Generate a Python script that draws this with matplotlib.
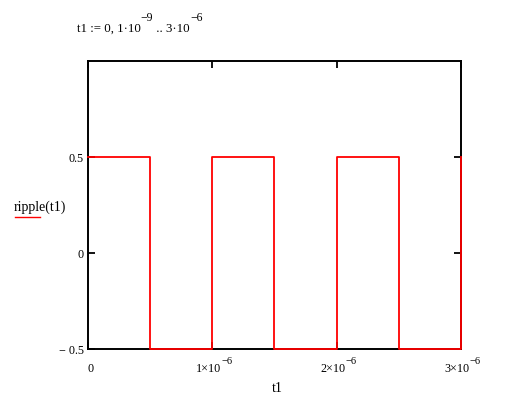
import matplotlib
matplotlib.use("Agg")
import matplotlib.pyplot as plt
from matplotlib.lines import Line2D

# data
edge_times = [0.0, 0.5e-6, 1.0e-6, 1.5e-6, 2.0e-6, 2.5e-6, 3.0e-6]
levels = [0.5, -0.5, 0.5, -0.5, 0.5, -0.5, 0.5]
x_ticks = [0.0, 1e-6, 2e-6, 3e-6]
x_tick_mant = ["0", "1\u00d710", "2\u00d710", "3\u00d710"]
x_tick_exp = ["", "\u22126", "\u22126", "\u22126"]
y_ticks = [-0.5, 0.0, 0.5]
y_tick_labels = ["\u2212 0.5", "0", "0.5"]

plt.rcParams['font.family'] = ['Liberation Serif', 'DejaVu Serif']

W, H = 506, 407
fig = plt.figure(figsize=(W / 100, H / 100), dpi=100)
L, R, T, B = 88, 461, 61, 349
ax = fig.add_axes([L / W, (H - B) / H, (R - L) / W, (B - T) / H])

ax.plot(edge_times, levels, drawstyle='steps-post', color='#ff0000', lw=1.3,
        clip_on=False, zorder=5)

ax.set_xlim(0, 3e-6)
ax.set_ylim(-0.5, 1.0)
ax.set_xticks(x_ticks)
ax.set_xticklabels([""] * len(x_ticks))
ax.set_yticks(y_ticks)
ax.set_yticklabels(y_tick_labels, fontsize=8.7)
ax.tick_params(axis='both', direction='in', length=5, width=1.3, color='black',
               top=True, right=True)
ax.tick_params(axis='y', pad=3)
for s in ax.spines.values():
    s.set_linewidth(1.4)
    s.set_zorder(3)

renderer = fig.canvas.get_renderer()


def rich(x_px, base_px, pieces, ha='left'):
    """pieces: list of (text, fontsize, raise_px). Coordinates in pixels from top-left."""
    widths = []
    for s, fs, _ in pieces:
        t = fig.text(0, 0, s, fontsize=fs)
        widths.append(t.get_window_extent(renderer).width)
        t.remove()
    total = sum(widths)
    if ha == 'center':
        x = x_px - total / 2
    elif ha == 'right':
        x = x_px - total
    else:
        x = x_px
    for (s, fs, dy), w in zip(pieces, widths):
        fig.text(x / W, 1 - (base_px - dy) / H, s, fontsize=fs,
                 ha='left', va='baseline')
        x += w


# x tick labels (Mathcad style with raised exponent)
for xv, m, e in zip(x_ticks, x_tick_mant, x_tick_exp):
    xp = L + (R - L) * xv / 3e-6
    if e:
        rich(xp + 2, 372, [(m, 8.7, 0), (e, 7.5, 8)], ha='center')
    else:
        rich(xp + 3, 372, [(m, 8.7, 0)], ha='center')

fig.text(277 / W, 1 - 388 / H, "t1", ha='center', va='center', fontsize=10)
fig.text(14 / W, 1 - 207 / H, "ripple(t1)", ha='left', va='center', fontsize=10)
fig.add_artist(Line2D([15 / W, 40 / W], [1 - 217 / H, 1 - 217 / H],
                      color='#ff0000', lw=1.0))

rich(77, 32, [("t1 := 0, 1\u00b710", 9.3, 0), ("\u22129", 8.5, 11),
              (" .. 3\u00b710", 9.3, 0), ("\u22126", 8.5, 11)])

fig.savefig("out.png", dpi=100)
